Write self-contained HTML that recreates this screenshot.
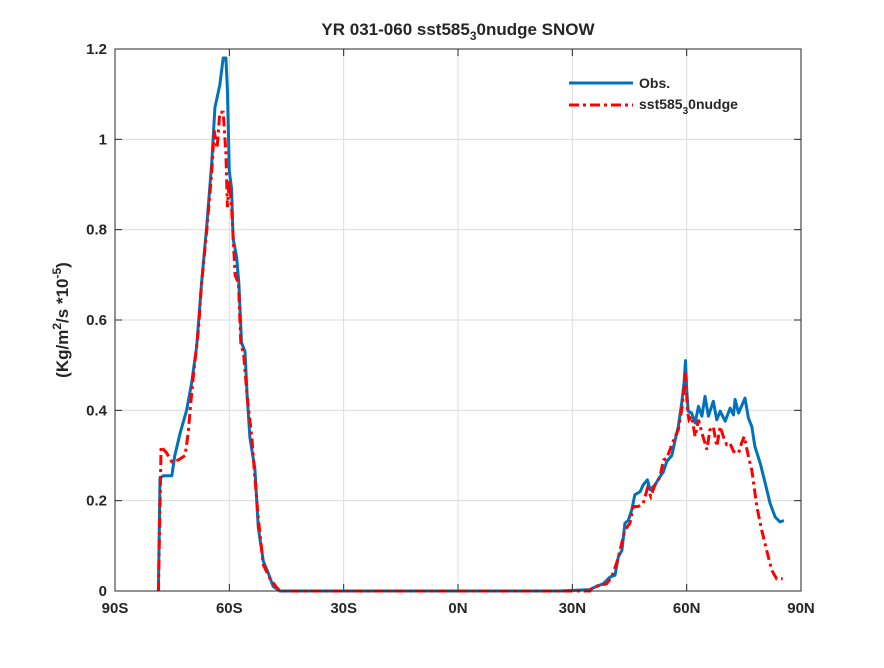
<!DOCTYPE html>
<html><head><meta charset="utf-8"><style>
body{margin:0;background:#fff;}
svg text{font-family:"Liberation Sans",sans-serif;font-weight:bold;fill:#262626;}
</style></head><body>
<svg id="chart" width="884" height="663" xmlns="http://www.w3.org/2000/svg">
<rect width="884" height="663" fill="#fff"/>
<g id="grid"></g>
<g id="ticks"></g>
<g id="series"></g>
<rect x="115" y="49" width="686" height="542" fill="none" stroke="#262626" stroke-width="1"/>
<text x="458" y="35" text-anchor="middle" font-size="17">YR 031-060 sst585<tspan font-size="12" dy="5">3</tspan><tspan dy="-5">0nudge SNOW</tspan></text>
<text transform="translate(68,320) rotate(-90)" text-anchor="middle" font-size="17">(Kg/m<tspan font-size="12" dy="-7">2</tspan><tspan dy="7">/s *10</tspan><tspan font-size="12" dy="-7">-5</tspan><tspan dy="7">)</tspan></text>
<g>
<line x1="569" y1="83" x2="633" y2="83" stroke="#0072BD" stroke-width="3"/>
<text x="639" y="88" font-size="14">Obs.</text>
<line x1="569" y1="105" x2="633" y2="105" stroke="#FF0000" stroke-width="3" stroke-dasharray="10,4,3,4"/>
<text x="639" y="109" font-size="14">sst585<tspan font-size="10" dy="5">3</tspan><tspan dy="-5">0nudge</tspan></text>
</g>
</svg>
<script>
const xTicks=[-90,-60,-30,0,30,60,90];
const xTickLabels=["90S","60S","30S","0N","30N","60N","90N"];
const yTicks=[0,0.2,0.4,0.6,0.8,1,1.2];
const yTickLabels=["0","0.2","0.4","0.6","0.8","1","1.2"];
const obsLat=[-78.6,-78.2,-77.3,-75.1,-74.3,-72.9,-71.2,-69.9,-68.6,-67.3,-65.9,-64.6,-63.8,-62.5,-61.6,-60.9,-60.5,-60.0,-59.4,-59.0,-58.1,-57.5,-56.8,-55.9,-55.3,-54.6,-53.3,-52.4,-51.1,-49.8,-48.5,-46.7,26.8,34.6,35.5,38.1,39.9,41.2,42.1,43.0,43.8,44.7,45.6,46.4,47.8,48.6,49.7,50.4,51.7,53.0,53.9,54.8,56.1,57.0,57.8,58.7,59.3,59.7,60.0,60.4,61.3,62.2,63.1,64.0,64.8,65.7,67.0,67.9,68.8,70.1,71.4,72.3,72.7,73.6,74.4,75.3,76.2,77.1,77.9,79.3,80.6,81.9,83.2,84.5,85.5];
const obsVal=[0,0.25,0.255,0.255,0.30,0.35,0.40,0.46,0.54,0.68,0.81,0.95,1.07,1.12,1.18,1.18,1.11,0.93,0.89,0.78,0.74,0.68,0.55,0.53,0.43,0.34,0.27,0.14,0.066,0.04,0.01,0,0,0.003,0.007,0.016,0.031,0.035,0.076,0.09,0.15,0.157,0.18,0.213,0.22,0.235,0.246,0.224,0.235,0.253,0.264,0.287,0.30,0.335,0.364,0.416,0.46,0.51,0.446,0.398,0.394,0.372,0.409,0.387,0.431,0.387,0.42,0.379,0.398,0.376,0.405,0.39,0.424,0.394,0.409,0.427,0.383,0.364,0.32,0.283,0.239,0.194,0.164,0.153,0.156];
const modLat=[-78.6,-77.9,-76.4,-75.1,-73.4,-71.6,-70.8,-70.3,-69.4,-68.1,-67.3,-65.9,-64.6,-64.0,-63.2,-62.5,-61.6,-60.9,-60.5,-60.0,-59.4,-58.5,-57.6,-57.0,-56.2,-55.3,-54.1,-53.3,-52.4,-51.1,-49.3,-47.6,-46.7,26.8,34.6,35.5,39.0,40.3,41.6,42.5,43.8,45.1,46.0,47.3,48.6,49.7,50.6,51.7,53.0,53.9,54.8,56.1,57.0,57.8,58.7,59.3,59.7,60.2,60.6,61.3,62.2,63.1,64.0,65.3,66.1,67.0,67.9,68.8,69.6,70.5,71.4,72.3,73.6,74.4,75.1,76.2,77.1,78.4,79.7,81.0,82.3,83.6,85.2];
const modVal=[0,0.32,0.305,0.286,0.29,0.30,0.35,0.40,0.48,0.58,0.68,0.80,0.93,1.02,0.98,1.06,1.06,0.97,0.85,0.91,0.85,0.70,0.68,0.55,0.52,0.43,0.34,0.25,0.16,0.058,0.027,0.008,0,0,0,0.009,0.016,0.031,0.061,0.09,0.135,0.15,0.187,0.187,0.194,0.227,0.209,0.235,0.253,0.29,0.294,0.324,0.342,0.357,0.401,0.446,0.483,0.401,0.379,0.387,0.342,0.379,0.35,0.313,0.357,0.364,0.32,0.364,0.342,0.324,0.327,0.309,0.305,0.327,0.342,0.298,0.268,0.187,0.135,0.09,0.046,0.027,0.027];
const NS="http://www.w3.org/2000/svg";
const X0=115,X1=801,Y0=591,Y1=49;
function xs(v){return X0+(v+90)/180*(X1-X0);}
function ys(v){return Y0-v/1.2*(Y0-Y1);}
const grid=document.getElementById('grid'),ticks=document.getElementById('ticks'),series=document.getElementById('series');
function mk(tag,attrs,parent){const e=document.createElementNS(NS,tag);for(const k in attrs)e.setAttribute(k,attrs[k]);parent.appendChild(e);return e;}
xTicks.forEach((t,i)=>{
  const x=xs(t);
  const g=mk('line',{x1:x,x2:x,y1:Y1,y2:Y0,stroke:'#dcdcdc','stroke-width':1},grid);
  
  
  const tk=mk('line',{x1:x,x2:x,y1:Y0,y2:Y0-7,stroke:'#262626'},ticks);
  
  
  const tt=mk('line',{x1:x,x2:x,y1:Y1,y2:Y1+7,stroke:'#262626'},ticks);
  
  
  const lb=mk('text',{x:x,y:Y0+22,'text-anchor':'middle','font-size':15},ticks);
  lb.textContent=xTickLabels[i];
  
  
});
yTicks.forEach((t,i)=>{
  const y=ys(t);
  const g=mk('line',{x1:X0,x2:X1,y1:y,y2:y,stroke:'#dcdcdc','stroke-width':1},grid);
  
  
  const tk=mk('line',{x1:X0,x2:X0+7,y1:y,y2:y,stroke:'#262626'},ticks);
  
  
  const tr=mk('line',{x1:X1,x2:X1-7,y1:y,y2:y,stroke:'#262626'},ticks);
  
  
  const lb=mk('text',{x:X0-8,y:y+5,'text-anchor':'end','font-size':15},ticks);
  lb.textContent=yTickLabels[i];
  
  
});
function pts(lat,val){return lat.map((l,i)=>xs(l).toFixed(1)+','+ys(val[i]).toFixed(1)).join(' ');}
const obs=mk('polyline',{points:pts(obsLat,obsVal),fill:'none',stroke:'#0072BD','stroke-width':3,'stroke-linejoin':'round'},series);


const mod=mk('polyline',{points:pts(modLat,modVal),fill:'none',stroke:'#FF0000','stroke-width':3,'stroke-dasharray':'10,4,3,4'},series);


</script>
</body></html>
